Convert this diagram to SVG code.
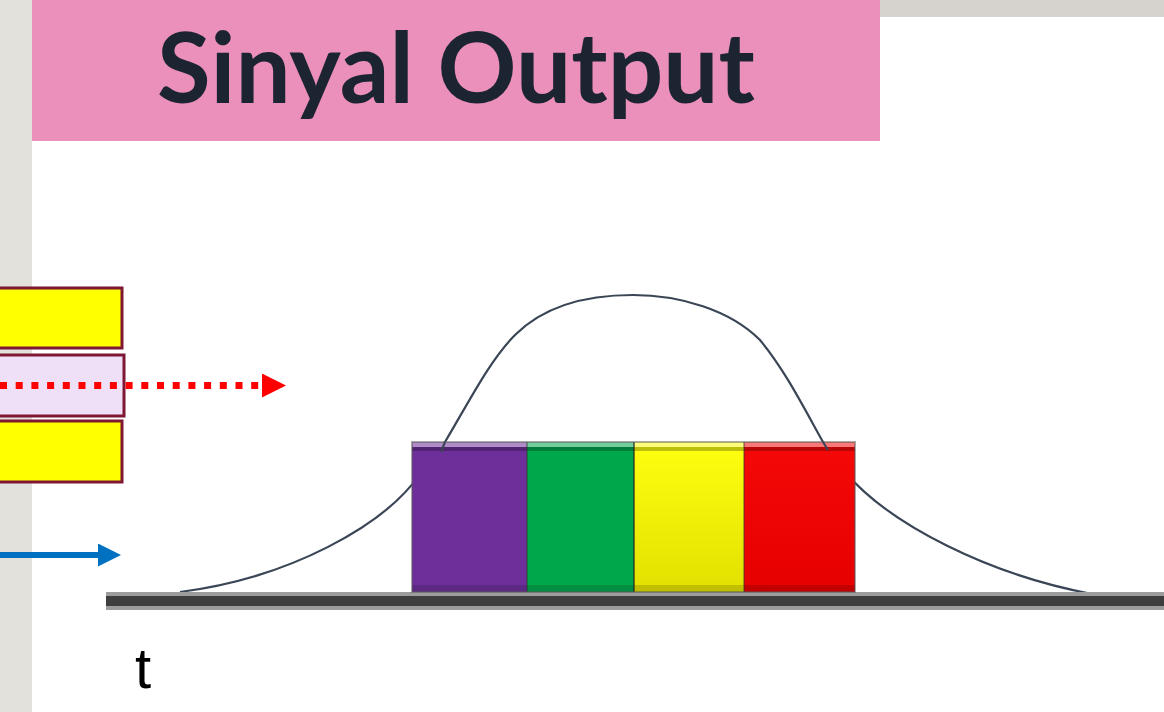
<svg xmlns="http://www.w3.org/2000/svg" width="1164" height="712" viewBox="0 0 1164 712">
<defs>
<style>
.box{stroke:#7f1734;stroke-width:3}
.curve{fill:none;stroke:#3a4556;stroke-width:2.2}
.band{opacity:0.45}
</style>
<linearGradient id="yg" x1="0" y1="0" x2="0" y2="1"><stop offset="0" stop-color="#ffff10"/><stop offset="1" stop-color="#e2e000"/></linearGradient>
<linearGradient id="rg" x1="0" y1="0" x2="0" y2="1"><stop offset="0" stop-color="#f50808"/><stop offset="1" stop-color="#e60000"/></linearGradient>
<marker id="ar" viewBox="0 0 10 10" refX="0" refY="5" markerWidth="24" markerHeight="24" markerUnits="userSpaceOnUse" orient="auto"><path d="M0 0 L10 5 L0 10 Z" fill="#ff0000"/></marker>
<marker id="ab" viewBox="0 0 10 10" refX="0" refY="5" markerWidth="23" markerHeight="23" markerUnits="userSpaceOnUse" orient="auto"><path d="M0 0 L10 5 L0 10 Z" fill="#0070c0"/></marker>
</defs>
<rect width="1164" height="712" fill="#ffffff"/>
<rect x="0" y="0" width="32" height="712" fill="#e3e1dc"/>
<rect x="880" y="0" width="284" height="17" fill="#d6d3ce"/>
<g id="title">
<rect x="32" y="0" width="848" height="141" fill="#eb90bb"/>
<text x="456" y="103" text-anchor="middle" font-family="Lato, 'Open Sans', sans-serif" font-weight="bold" font-size="98" fill="#1b2430" textLength="598" lengthAdjust="spacingAndGlyphs">Sinyal Output</text>
</g>
<g id="layer1"><rect class="box" x="-10" y="288" width="132" height="60" fill="#ffff00"/></g>
<g id="layer2"><rect class="box" x="-10" y="355" width="134" height="61" fill="#efe0f7"/></g>
<g id="layer3"><rect class="box" x="-10" y="421" width="132" height="61" fill="#ffff00"/></g>
<g id="connectors">
<line x1="0" y1="385.5" x2="262" y2="385.5" stroke="#ff0000" stroke-width="7" stroke-dasharray="7 8.7" marker-end="url(#ar)"/>
<line x1="0" y1="555" x2="98" y2="555" stroke="#0070c0" stroke-width="6" marker-end="url(#ab)"/>
</g>
<g id="curve">
<path class="curve" d="M180 592 C290 578 385 525 420 474 L445 442 C470 400 490 360 515 335 C545 305 590 295 633 295 C680 295 730 310 760 340 C785 370 805 410 823 442 L845 472 C890 525 990 575 1092 594"/>
</g>
<g id="axis">
<rect x="106" y="592" width="1058" height="18" fill="#9c9c9c"/>
<rect x="106" y="596" width="1058" height="10" fill="#3e3e3e"/>
</g>
<g id="blocks">
<rect x="412" y="442" width="115" height="150" fill="#6e2f9a"/>
<rect x="527" y="442" width="107" height="150" fill="#00a84c"/>
<rect x="634" y="442" width="110" height="150" fill="url(#yg)"/>
<rect x="744" y="442" width="111" height="150" fill="url(#rg)"/>
<rect x="412" y="442" width="443" height="5" fill="#ffffff" class="band"/>
<rect x="412" y="447" width="443" height="4" fill="#000000" opacity="0.25"/>
<rect x="412" y="585" width="443" height="7" fill="#000000" opacity="0.15"/>
<line x1="527" y1="442" x2="527" y2="592" stroke="#333" stroke-width="2" opacity="0.4"/>
<line x1="634" y1="442" x2="634" y2="592" stroke="#222" stroke-width="2" opacity="0.6"/>
<line x1="744" y1="442" x2="744" y2="592" stroke="#333" stroke-width="2" opacity="0.4"/>
<rect x="412" y="442" width="443" height="150" fill="none" stroke="#555" stroke-width="2" opacity="0.5"/>
</g>
<path class="curve" d="M445 442 L441 452"/>
<path class="curve" d="M823 442 L828 450"/>
<text x="135" y="688" font-family="'Liberation Sans', sans-serif" font-size="58" fill="#000000">t</text>
</svg>
